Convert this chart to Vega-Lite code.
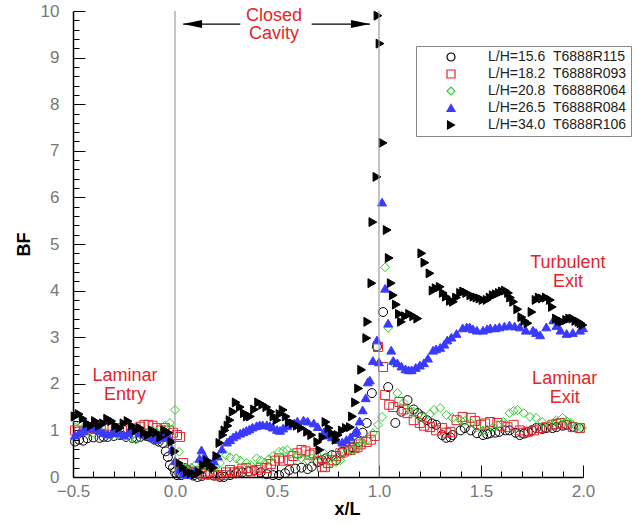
{
  "$schema": "https://vega.github.io/schema/vega-lite/v6.json",
  "width": 510,
  "height": 466,
  "autosize": {"type": "none"},
  "padding": {"left": 73, "top": 11, "right": 54, "bottom": 48},
  "background": "white",
  "config": {"view": {"stroke": null}},
  "datasets": {
    "vlines": [{"x": 0, "y": 0, "y2": 10}, {"x": 1, "y": 0, "y2": 10}],
    "arrows": [{"x": 0.04, "x2": 0.32, "y": 9.72}, {"x": 0.67, "x2": 0.956, "y": 9.72}],
    "headL": [{"x": 0.086, "y": 9.72}],
    "headR": [{"x": 0.909, "y": 9.72}],
    "notes": [
      {"x": 0.485, "y": 9.78, "t": "Closed"},
      {"x": 0.485, "y": 9.39, "t": "Cavity"},
      {"x": -0.245, "y": 2.06, "t": "Laminar"},
      {"x": -0.245, "y": 1.66, "t": "Entry"},
      {"x": 1.926, "y": 4.48, "t": "Turbulent"},
      {"x": 1.926, "y": 4.08, "t": "Exit"},
      {"x": 1.91, "y": 1.99, "t": "Laminar"},
      {"x": 1.91, "y": 1.59, "t": "Exit"}
    ],
    "pts": [
      {"s":"a","x":-0.49,"y":0.76},{"s":"a","x":-0.47,"y":0.8},{"s":"a","x":-0.45,"y":0.78},{"s":"a","x":-0.43,"y":0.83},{"s":"a","x":-0.40,"y":0.85},{"s":"a","x":-0.37,"y":0.84},{"s":"a","x":-0.35,"y":0.86},{"s":"a","x":-0.33,"y":0.86},{"s":"a","x":-0.30,"y":0.88},{"s":"a","x":-0.27,"y":0.9},{"s":"a","x":-0.24,"y":0.86},{"s":"a","x":-0.21,"y":0.84},{"s":"a","x":-0.19,"y":0.84},{"s":"a","x":-0.17,"y":0.86},{"s":"a","x":-0.14,"y":0.88},{"s":"a","x":-0.12,"y":0.85},{"s":"a","x":-0.10,"y":0.8},{"s":"a","x":-0.08,"y":0.76},{"s":"a","x":-0.06,"y":0.73},{"s":"a","x":-0.045,"y":0.55},{"s":"a","x":-0.035,"y":0.43},{"s":"a","x":-0.025,"y":0.26},{"s":"a","x":-0.01,"y":0.2},{"s":"a","x":0.0,"y":0.1},{"s":"a","x":0.01,"y":0.04},{"s":"a","x":0.03,"y":0.04},{"s":"a","x":0.05,"y":0.19},{"s":"a","x":0.07,"y":0.06},{"s":"a","x":0.09,"y":0.03},{"s":"a","x":0.11,"y":0.0},{"s":"a","x":0.13,"y":0.02},{"s":"a","x":0.16,"y":0.05},{"s":"a","x":0.19,"y":0.03},{"s":"a","x":0.22,"y":0.0},{"s":"a","x":0.24,"y":0.0},{"s":"a","x":0.27,"y":0.04},{"s":"a","x":0.30,"y":0.08},{"s":"a","x":0.33,"y":0.1},{"s":"a","x":0.36,"y":0.12},{"s":"a","x":0.39,"y":0.14},{"s":"a","x":0.42,"y":0.1},{"s":"a","x":0.45,"y":0.06},{"s":"a","x":0.48,"y":0.04},{"s":"a","x":0.51,"y":0.04},{"s":"a","x":0.54,"y":0.08},{"s":"a","x":0.56,"y":0.15},{"s":"a","x":0.59,"y":0.18},{"s":"a","x":0.62,"y":0.2},{"s":"a","x":0.65,"y":0.17},{"s":"a","x":0.67,"y":0.22},{"s":"a","x":0.70,"y":0.32},{"s":"a","x":0.72,"y":0.36},{"s":"a","x":0.74,"y":0.40},{"s":"a","x":0.77,"y":0.47},{"s":"a","x":0.79,"y":0.36},{"s":"a","x":0.82,"y":0.54},{"s":"a","x":0.85,"y":0.58},{"s":"a","x":0.87,"y":0.64},{"s":"a","x":0.90,"y":0.75},{"s":"a","x":0.92,"y":0.95},{"s":"a","x":0.94,"y":1.16},{"s":"a","x":0.965,"y":1.8},{"s":"a","x":0.99,"y":2.8},{"s":"a","x":1.02,"y":3.54},{"s":"a","x":1.045,"y":1.93},{"s":"a","x":1.08,"y":1.16},{"s":"a","x":1.11,"y":1.4},{"s":"a","x":1.14,"y":1.65},{"s":"a","x":1.17,"y":1.45},{"s":"a","x":1.19,"y":1.37},{"s":"a","x":1.21,"y":1.3},{"s":"a","x":1.235,"y":1.22},{"s":"a","x":1.26,"y":1.15},{"s":"a","x":1.28,"y":1.12},{"s":"a","x":1.31,"y":0.9},{"s":"a","x":1.33,"y":0.84},{"s":"a","x":1.35,"y":0.85},{"s":"a","x":1.36,"y":0.9},{"s":"a","x":1.40,"y":1.0},{"s":"a","x":1.42,"y":1.05},{"s":"a","x":1.45,"y":1.0},{"s":"a","x":1.48,"y":0.94},{"s":"a","x":1.51,"y":0.9},{"s":"a","x":1.53,"y":0.92},{"s":"a","x":1.545,"y":0.94},{"s":"a","x":1.57,"y":0.95},{"s":"a","x":1.59,"y":0.97},{"s":"a","x":1.62,"y":1.0},{"s":"a","x":1.64,"y":1.0},{"s":"a","x":1.67,"y":0.95},{"s":"a","x":1.69,"y":0.9},{"s":"a","x":1.71,"y":0.93},{"s":"a","x":1.73,"y":0.97},{"s":"a","x":1.75,"y":1.0},{"s":"a","x":1.77,"y":1.05},{"s":"a","x":1.80,"y":1.03},{"s":"a","x":1.82,"y":1.05},{"s":"a","x":1.85,"y":1.05},{"s":"a","x":1.87,"y":1.07},{"s":"a","x":1.90,"y":1.1},{"s":"a","x":1.92,"y":1.12},{"s":"a","x":1.95,"y":1.08},{"s":"a","x":1.98,"y":1.05},

      {"s":"b","x":-0.49,"y":1.0},{"s":"b","x":-0.47,"y":0.97},{"s":"b","x":-0.44,"y":1.0},{"s":"b","x":-0.41,"y":1.05},{"s":"b","x":-0.38,"y":1.03},{"s":"b","x":-0.35,"y":1.08},{"s":"b","x":-0.32,"y":1.1},{"s":"b","x":-0.29,"y":1.05},{"s":"b","x":-0.26,"y":1.0},{"s":"b","x":-0.23,"y":1.02},{"s":"b","x":-0.20,"y":1.04},{"s":"b","x":-0.17,"y":1.08},{"s":"b","x":-0.15,"y":1.12},{"s":"b","x":-0.13,"y":1.12},{"s":"b","x":-0.11,"y":1.1},{"s":"b","x":-0.09,"y":1.05},{"s":"b","x":-0.07,"y":1.0},{"s":"b","x":-0.05,"y":1.05},{"s":"b","x":-0.03,"y":1.0},{"s":"b","x":-0.01,"y":0.95},{"s":"b","x":0.01,"y":0.9},{"s":"b","x":0.025,"y":0.86},{"s":"b","x":0.04,"y":0.3},{"s":"b","x":0.055,"y":0.15},{"s":"b","x":0.07,"y":0.1},{"s":"b","x":0.09,"y":0.1},{"s":"b","x":0.11,"y":0.12},{"s":"b","x":0.13,"y":0.08},{"s":"b","x":0.15,"y":0.06},{"s":"b","x":0.17,"y":0.1},{"s":"b","x":0.19,"y":0.05},{"s":"b","x":0.21,"y":0.03},{"s":"b","x":0.235,"y":0.04},{"s":"b","x":0.25,"y":0.1},{"s":"b","x":0.27,"y":0.15},{"s":"b","x":0.29,"y":0.1},{"s":"b","x":0.31,"y":0.12},{"s":"b","x":0.33,"y":0.18},{"s":"b","x":0.35,"y":0.19},{"s":"b","x":0.37,"y":0.12},{"s":"b","x":0.40,"y":0.15},{"s":"b","x":0.42,"y":0.2},{"s":"b","x":0.45,"y":0.19},{"s":"b","x":0.47,"y":0.28},{"s":"b","x":0.49,"y":0.35},{"s":"b","x":0.51,"y":0.4},{"s":"b","x":0.53,"y":0.35},{"s":"b","x":0.56,"y":0.36},{"s":"b","x":0.58,"y":0.45},{"s":"b","x":0.60,"y":0.51},{"s":"b","x":0.62,"y":0.58},{"s":"b","x":0.64,"y":0.55},{"s":"b","x":0.66,"y":0.48},{"s":"b","x":0.68,"y":0.51},{"s":"b","x":0.70,"y":0.35},{"s":"b","x":0.72,"y":0.22},{"s":"b","x":0.735,"y":0.21},{"s":"b","x":0.75,"y":0.3},{"s":"b","x":0.77,"y":0.36},{"s":"b","x":0.79,"y":0.45},{"s":"b","x":0.81,"y":0.51},{"s":"b","x":0.83,"y":0.55},{"s":"b","x":0.86,"y":0.58},{"s":"b","x":0.88,"y":0.62},{"s":"b","x":0.895,"y":0.64},{"s":"b","x":0.91,"y":0.7},{"s":"b","x":0.94,"y":0.75},{"s":"b","x":0.96,"y":0.8},{"s":"b","x":0.98,"y":0.88},{"s":"b","x":0.995,"y":2.79},{"s":"b","x":1.02,"y":2.36},{"s":"b","x":1.03,"y":1.76},{"s":"b","x":1.05,"y":1.55},{"s":"b","x":1.07,"y":1.5},{"s":"b","x":1.10,"y":1.61},{"s":"b","x":1.12,"y":1.45},{"s":"b","x":1.14,"y":1.37},{"s":"b","x":1.17,"y":1.22},{"s":"b","x":1.20,"y":1.16},{"s":"b","x":1.22,"y":1.1},{"s":"b","x":1.25,"y":1.07},{"s":"b","x":1.28,"y":1.0},{"s":"b","x":1.31,"y":1.05},{"s":"b","x":1.33,"y":0.95},{"s":"b","x":1.35,"y":0.97},{"s":"b","x":1.38,"y":1.22},{"s":"b","x":1.41,"y":1.29},{"s":"b","x":1.45,"y":1.27},{"s":"b","x":1.47,"y":1.2},{"s":"b","x":1.50,"y":1.12},{"s":"b","x":1.52,"y":1.15},{"s":"b","x":1.545,"y":1.18},{"s":"b","x":1.58,"y":1.16},{"s":"b","x":1.60,"y":1.1},{"s":"b","x":1.63,"y":1.07},{"s":"b","x":1.66,"y":1.12},{"s":"b","x":1.69,"y":1.0},{"s":"b","x":1.71,"y":0.95},{"s":"b","x":1.73,"y":0.97},{"s":"b","x":1.76,"y":1.0},{"s":"b","x":1.79,"y":1.05},{"s":"b","x":1.82,"y":1.07},{"s":"b","x":1.85,"y":1.12},{"s":"b","x":1.87,"y":1.14},{"s":"b","x":1.89,"y":1.16},{"s":"b","x":1.92,"y":1.12},{"s":"b","x":1.95,"y":1.07},{"s":"b","x":1.985,"y":1.05},

      {"s":"c","x":-0.48,"y":1.2},{"s":"c","x":-0.46,"y":1.15},{"s":"c","x":-0.44,"y":1.1},{"s":"c","x":-0.42,"y":1.0},{"s":"c","x":-0.40,"y":0.95},{"s":"c","x":-0.37,"y":1.0},{"s":"c","x":-0.34,"y":0.95},{"s":"c","x":-0.31,"y":0.9},{"s":"c","x":-0.28,"y":0.92},{"s":"c","x":-0.25,"y":0.88},{"s":"c","x":-0.22,"y":0.85},{"s":"c","x":-0.19,"y":0.8},{"s":"c","x":-0.16,"y":0.9},{"s":"c","x":-0.13,"y":0.95},{"s":"c","x":-0.11,"y":1.0},{"s":"c","x":-0.09,"y":0.95},{"s":"c","x":-0.07,"y":1.05},{"s":"c","x":-0.05,"y":1.1},{"s":"c","x":-0.025,"y":1.16},{"s":"c","x":0.0,"y":1.44},{"s":"c","x":0.02,"y":0.54},{"s":"c","x":0.04,"y":0.2},{"s":"c","x":0.06,"y":0.15},{"s":"c","x":0.08,"y":0.2},{"s":"c","x":0.10,"y":0.25},{"s":"c","x":0.12,"y":0.2},{"s":"c","x":0.14,"y":0.15},{"s":"c","x":0.16,"y":0.2},{"s":"c","x":0.18,"y":0.25},{"s":"c","x":0.20,"y":0.22},{"s":"c","x":0.22,"y":0.3},{"s":"c","x":0.25,"y":0.47},{"s":"c","x":0.27,"y":0.42},{"s":"c","x":0.30,"y":0.4},{"s":"c","x":0.32,"y":0.35},{"s":"c","x":0.35,"y":0.3},{"s":"c","x":0.37,"y":0.26},{"s":"c","x":0.40,"y":0.4},{"s":"c","x":0.42,"y":0.36},{"s":"c","x":0.44,"y":0.3},{"s":"c","x":0.46,"y":0.38},{"s":"c","x":0.48,"y":0.45},{"s":"c","x":0.51,"y":0.54},{"s":"c","x":0.53,"y":0.56},{"s":"c","x":0.55,"y":0.58},{"s":"c","x":0.57,"y":0.5},{"s":"c","x":0.60,"y":0.47},{"s":"c","x":0.62,"y":0.4},{"s":"c","x":0.65,"y":0.36},{"s":"c","x":0.67,"y":0.4},{"s":"c","x":0.70,"y":0.45},{"s":"c","x":0.73,"y":0.51},{"s":"c","x":0.75,"y":0.4},{"s":"c","x":0.77,"y":0.3},{"s":"c","x":0.79,"y":0.32},{"s":"c","x":0.81,"y":0.36},{"s":"c","x":0.84,"y":0.51},{"s":"c","x":0.87,"y":0.58},{"s":"c","x":0.89,"y":0.65},{"s":"c","x":0.91,"y":0.69},{"s":"c","x":0.94,"y":0.79},{"s":"c","x":0.97,"y":0.94},{"s":"c","x":0.995,"y":1.12},{"s":"c","x":1.015,"y":1.29},{"s":"c","x":1.03,"y":4.5},{"s":"c","x":1.045,"y":3.2},{"s":"c","x":1.07,"y":2.45},{"s":"c","x":1.09,"y":1.8},{"s":"c","x":1.12,"y":1.6},{"s":"c","x":1.15,"y":1.44},{"s":"c","x":1.17,"y":1.4},{"s":"c","x":1.19,"y":1.33},{"s":"c","x":1.22,"y":1.27},{"s":"c","x":1.25,"y":1.35},{"s":"c","x":1.27,"y":1.44},{"s":"c","x":1.30,"y":1.48},{"s":"c","x":1.33,"y":1.33},{"s":"c","x":1.36,"y":1.27},{"s":"c","x":1.40,"y":1.22},{"s":"c","x":1.42,"y":1.2},{"s":"c","x":1.45,"y":1.16},{"s":"c","x":1.48,"y":1.07},{"s":"c","x":1.51,"y":1.0},{"s":"c","x":1.53,"y":1.02},{"s":"c","x":1.56,"y":1.07},{"s":"c","x":1.58,"y":1.12},{"s":"c","x":1.61,"y":1.18},{"s":"c","x":1.64,"y":1.37},{"s":"c","x":1.66,"y":1.42},{"s":"c","x":1.68,"y":1.44},{"s":"c","x":1.71,"y":1.37},{"s":"c","x":1.74,"y":1.29},{"s":"c","x":1.77,"y":1.27},{"s":"c","x":1.80,"y":1.18},{"s":"c","x":1.84,"y":1.12},{"s":"c","x":1.87,"y":1.22},{"s":"c","x":1.90,"y":1.27},{"s":"c","x":1.92,"y":1.2},{"s":"c","x":1.94,"y":1.16},{"s":"c","x":1.97,"y":1.07},{"s":"c","x":1.995,"y":1.05},

      {"s":"d","x":-0.49,"y":0.9},{"s":"d","x":-0.47,"y":0.95},{"s":"d","x":-0.45,"y":1.0},{"s":"d","x":-0.43,"y":1.05},{"s":"d","x":-0.41,"y":1.1},{"s":"d","x":-0.39,"y":1.05},{"s":"d","x":-0.37,"y":1.0},{"s":"d","x":-0.35,"y":0.95},{"s":"d","x":-0.33,"y":0.92},{"s":"d","x":-0.31,"y":0.95},{"s":"d","x":-0.29,"y":1.0},{"s":"d","x":-0.27,"y":0.95},{"s":"d","x":-0.25,"y":0.9},{"s":"d","x":-0.23,"y":0.95},{"s":"d","x":-0.21,"y":1.0},{"s":"d","x":-0.19,"y":1.0},{"s":"d","x":-0.17,"y":0.95},{"s":"d","x":-0.15,"y":0.92},{"s":"d","x":-0.13,"y":0.9},{"s":"d","x":-0.11,"y":0.85},{"s":"d","x":-0.09,"y":0.8},{"s":"d","x":-0.07,"y":0.85},{"s":"d","x":-0.05,"y":0.9},{"s":"d","x":-0.03,"y":0.85},{"s":"d","x":-0.015,"y":0.6},{"s":"d","x":0.0,"y":0.35},{"s":"d","x":0.02,"y":0.15},{"s":"d","x":0.04,"y":0.08},{"s":"d","x":0.06,"y":0.05},{"s":"d","x":0.08,"y":0.1},{"s":"d","x":0.10,"y":0.15},{"s":"d","x":0.12,"y":0.4},{"s":"d","x":0.13,"y":0.58},{"s":"d","x":0.145,"y":0.45},{"s":"d","x":0.155,"y":0.36},{"s":"d","x":0.17,"y":0.3},{"s":"d","x":0.19,"y":0.35},{"s":"d","x":0.21,"y":0.45},{"s":"d","x":0.23,"y":0.6},{"s":"d","x":0.255,"y":0.75},{"s":"d","x":0.27,"y":0.8},{"s":"d","x":0.285,"y":0.86},{"s":"d","x":0.30,"y":0.9},{"s":"d","x":0.32,"y":0.94},{"s":"d","x":0.335,"y":0.97},{"s":"d","x":0.35,"y":1.0},{"s":"d","x":0.365,"y":1.03},{"s":"d","x":0.38,"y":1.07},{"s":"d","x":0.40,"y":1.1},{"s":"d","x":0.415,"y":1.12},{"s":"d","x":0.43,"y":1.12},{"s":"d","x":0.45,"y":1.12},{"s":"d","x":0.465,"y":1.1},{"s":"d","x":0.48,"y":1.07},{"s":"d","x":0.50,"y":1.02},{"s":"d","x":0.515,"y":1.0},{"s":"d","x":0.53,"y":1.05},{"s":"d","x":0.55,"y":1.1},{"s":"d","x":0.57,"y":1.14},{"s":"d","x":0.585,"y":1.16},{"s":"d","x":0.60,"y":1.2},{"s":"d","x":0.63,"y":1.22},{"s":"d","x":0.65,"y":1.2},{"s":"d","x":0.68,"y":1.16},{"s":"d","x":0.70,"y":1.08},{"s":"d","x":0.73,"y":0.97},{"s":"d","x":0.75,"y":0.9},{"s":"d","x":0.77,"y":0.86},{"s":"d","x":0.79,"y":0.8},{"s":"d","x":0.82,"y":0.75},{"s":"d","x":0.84,"y":0.8},{"s":"d","x":0.86,"y":0.86},{"s":"d","x":0.88,"y":0.95},{"s":"d","x":0.89,"y":1.0},{"s":"d","x":0.905,"y":1.2},{"s":"d","x":0.92,"y":1.44},{"s":"d","x":0.935,"y":1.7},{"s":"d","x":0.945,"y":2.04},{"s":"d","x":0.955,"y":2.08},{"s":"d","x":0.97,"y":2.5},{"s":"d","x":0.99,"y":2.94},{"s":"d","x":1.0,"y":2.47},{"s":"d","x":1.015,"y":5.9},{"s":"d","x":1.03,"y":4.05},{"s":"d","x":1.045,"y":3.3},{"s":"d","x":1.06,"y":2.72},{"s":"d","x":1.07,"y":2.5},{"s":"d","x":1.09,"y":2.45},{"s":"d","x":1.11,"y":2.38},{"s":"d","x":1.13,"y":2.32},{"s":"d","x":1.145,"y":2.3},{"s":"d","x":1.16,"y":2.3},{"s":"d","x":1.18,"y":2.35},{"s":"d","x":1.20,"y":2.4},{"s":"d","x":1.22,"y":2.45},{"s":"d","x":1.24,"y":2.55},{"s":"d","x":1.265,"y":2.72},{"s":"d","x":1.28,"y":2.75},{"s":"d","x":1.30,"y":2.78},{"s":"d","x":1.32,"y":2.85},{"s":"d","x":1.335,"y":2.94},{"s":"d","x":1.355,"y":3.0},{"s":"d","x":1.38,"y":3.08},{"s":"d","x":1.41,"y":3.2},{"s":"d","x":1.43,"y":3.22},{"s":"d","x":1.445,"y":3.22},{"s":"d","x":1.46,"y":3.18},{"s":"d","x":1.48,"y":3.15},{"s":"d","x":1.51,"y":3.15},{"s":"d","x":1.53,"y":3.18},{"s":"d","x":1.545,"y":3.2},{"s":"d","x":1.57,"y":3.2},{"s":"d","x":1.59,"y":3.22},{"s":"d","x":1.615,"y":3.24},{"s":"d","x":1.64,"y":3.26},{"s":"d","x":1.665,"y":3.24},{"s":"d","x":1.69,"y":3.22},{"s":"d","x":1.72,"y":3.15},{"s":"d","x":1.755,"y":3.15},{"s":"d","x":1.77,"y":3.1},{"s":"d","x":1.79,"y":3.05},{"s":"d","x":1.82,"y":3.22},{"s":"d","x":1.855,"y":3.37},{"s":"d","x":1.87,"y":3.25},{"s":"d","x":1.89,"y":3.15},{"s":"d","x":1.92,"y":3.08},{"s":"d","x":1.95,"y":3.1},{"s":"d","x":1.985,"y":3.15},{"s":"d","x":2.0,"y":3.2},

      {"s":"e","x":-0.49,"y":1.3},{"s":"e","x":-0.47,"y":1.35},{"s":"e","x":-0.45,"y":1.25},{"s":"e","x":-0.43,"y":1.15},{"s":"e","x":-0.41,"y":1.1},{"s":"e","x":-0.39,"y":1.2},{"s":"e","x":-0.37,"y":1.1},{"s":"e","x":-0.35,"y":1.15},{"s":"e","x":-0.33,"y":1.25},{"s":"e","x":-0.31,"y":1.2},{"s":"e","x":-0.29,"y":1.1},{"s":"e","x":-0.27,"y":1.05},{"s":"e","x":-0.25,"y":1.15},{"s":"e","x":-0.23,"y":1.2},{"s":"e","x":-0.21,"y":1.1},{"s":"e","x":-0.19,"y":1.0},{"s":"e","x":-0.17,"y":1.05},{"s":"e","x":-0.15,"y":0.95},{"s":"e","x":-0.13,"y":0.9},{"s":"e","x":-0.11,"y":1.0},{"s":"e","x":-0.09,"y":0.95},{"s":"e","x":-0.07,"y":0.85},{"s":"e","x":-0.05,"y":1.0},{"s":"e","x":-0.03,"y":0.95},{"s":"e","x":-0.015,"y":0.75},{"s":"e","x":0.0,"y":0.55},{"s":"e","x":0.02,"y":0.3},{"s":"e","x":0.04,"y":0.2},{"s":"e","x":0.06,"y":0.1},{"s":"e","x":0.08,"y":0.08},{"s":"e","x":0.10,"y":0.05},{"s":"e","x":0.12,"y":0.1},{"s":"e","x":0.14,"y":0.25},{"s":"e","x":0.16,"y":0.35},{"s":"e","x":0.175,"y":0.25},{"s":"e","x":0.19,"y":0.2},{"s":"e","x":0.205,"y":0.45},{"s":"e","x":0.22,"y":0.73},{"s":"e","x":0.235,"y":0.9},{"s":"e","x":0.245,"y":1.0},{"s":"e","x":0.26,"y":1.1},{"s":"e","x":0.27,"y":1.22},{"s":"e","x":0.285,"y":1.4},{"s":"e","x":0.30,"y":1.6},{"s":"e","x":0.32,"y":1.5},{"s":"e","x":0.34,"y":1.37},{"s":"e","x":0.355,"y":1.3},{"s":"e","x":0.37,"y":1.3},{"s":"e","x":0.39,"y":1.45},{"s":"e","x":0.41,"y":1.6},{"s":"e","x":0.43,"y":1.55},{"s":"e","x":0.45,"y":1.5},{"s":"e","x":0.47,"y":1.4},{"s":"e","x":0.485,"y":1.3},{"s":"e","x":0.50,"y":1.22},{"s":"e","x":0.515,"y":1.35},{"s":"e","x":0.53,"y":1.44},{"s":"e","x":0.545,"y":1.3},{"s":"e","x":0.56,"y":1.18},{"s":"e","x":0.58,"y":1.15},{"s":"e","x":0.60,"y":1.1},{"s":"e","x":0.62,"y":1.05},{"s":"e","x":0.65,"y":0.97},{"s":"e","x":0.67,"y":0.9},{"s":"e","x":0.70,"y":0.75},{"s":"e","x":0.71,"y":0.58},{"s":"e","x":0.725,"y":0.85},{"s":"e","x":0.74,"y":1.18},{"s":"e","x":0.755,"y":1.05},{"s":"e","x":0.77,"y":0.94},{"s":"e","x":0.79,"y":0.8},{"s":"e","x":0.80,"y":0.9},{"s":"e","x":0.82,"y":1.0},{"s":"e","x":0.84,"y":1.05},{"s":"e","x":0.86,"y":1.07},{"s":"e","x":0.87,"y":1.3},{"s":"e","x":0.885,"y":1.6},{"s":"e","x":0.90,"y":1.9},{"s":"e","x":0.915,"y":2.3},{"s":"e","x":0.94,"y":2.98},{"s":"e","x":0.945,"y":3.33},{"s":"e","x":0.965,"y":4.16},{"s":"e","x":0.97,"y":5.47},{"s":"e","x":0.99,"y":6.44},{"s":"e","x":0.995,"y":9.9},{"s":"e","x":1.005,"y":9.3},{"s":"e","x":1.02,"y":7.17},{"s":"e","x":1.04,"y":5.3},{"s":"e","x":1.05,"y":4.7},{"s":"e","x":1.06,"y":4.16},{"s":"e","x":1.07,"y":3.9},{"s":"e","x":1.085,"y":3.7},{"s":"e","x":1.10,"y":3.5},{"s":"e","x":1.11,"y":3.33},{"s":"e","x":1.13,"y":3.45},{"s":"e","x":1.15,"y":3.5},{"s":"e","x":1.17,"y":3.45},{"s":"e","x":1.19,"y":3.4},{"s":"e","x":1.21,"y":4.8},{"s":"e","x":1.225,"y":4.6},{"s":"e","x":1.25,"y":4.37},{"s":"e","x":1.265,"y":4.0},{"s":"e","x":1.28,"y":4.05},{"s":"e","x":1.30,"y":4.08},{"s":"e","x":1.315,"y":3.95},{"s":"e","x":1.33,"y":3.87},{"s":"e","x":1.35,"y":3.78},{"s":"e","x":1.365,"y":3.76},{"s":"e","x":1.38,"y":3.85},{"s":"e","x":1.40,"y":3.95},{"s":"e","x":1.415,"y":3.98},{"s":"e","x":1.43,"y":3.95},{"s":"e","x":1.45,"y":3.9},{"s":"e","x":1.465,"y":3.87},{"s":"e","x":1.48,"y":3.85},{"s":"e","x":1.495,"y":3.83},{"s":"e","x":1.51,"y":3.8},{"s":"e","x":1.53,"y":3.8},{"s":"e","x":1.545,"y":3.85},{"s":"e","x":1.56,"y":3.9},{"s":"e","x":1.575,"y":3.92},{"s":"e","x":1.59,"y":3.95},{"s":"e","x":1.605,"y":3.98},{"s":"e","x":1.62,"y":4.0},{"s":"e","x":1.635,"y":3.95},{"s":"e","x":1.645,"y":3.85},{"s":"e","x":1.66,"y":3.76},{"s":"e","x":1.68,"y":3.6},{"s":"e","x":1.70,"y":3.43},{"s":"e","x":1.715,"y":3.35},{"s":"e","x":1.73,"y":3.3},{"s":"e","x":1.75,"y":3.54},{"s":"e","x":1.77,"y":3.8},{"s":"e","x":1.785,"y":3.85},{"s":"e","x":1.80,"y":3.83},{"s":"e","x":1.82,"y":3.85},{"s":"e","x":1.84,"y":3.8},{"s":"e","x":1.85,"y":3.65},{"s":"e","x":1.87,"y":3.4},{"s":"e","x":1.885,"y":3.35},{"s":"e","x":1.90,"y":3.33},{"s":"e","x":1.92,"y":3.37},{"s":"e","x":1.935,"y":3.4},{"s":"e","x":1.95,"y":3.4},{"s":"e","x":1.965,"y":3.35},{"s":"e","x":1.98,"y":3.33},{"s":"e","x":1.99,"y":3.3},{"s":"e","x":2.0,"y":3.26}
    ]
  },
  "encoding": {
    "x": {
      "field": "x", "type": "quantitative",
      "scale": {"domain": [-0.5, 2], "nice": false, "zero": false},
      "axis": {
        "values": [-0.5,-0.4,-0.3,-0.2,-0.1,0,0.1,0.2,0.3,0.4,0.5,0.6,0.7,0.8,0.9,1,1.1,1.2,1.3,1.4,1.5,1.6,1.7,1.8,1.9,2],
        "labelExpr": "abs(datum.value*2 - round(datum.value*2)) < 0.001 ? format(datum.value, '.1f') : ''",
        "title": "x/L", "grid": false,
        "domainColor": "#000000", "domainWidth": 1.5,
        "ticks": true, "tickColor": "#000000", "tickWidth": 1,
        "tickSize": {"condition": {"test": "abs(datum.value*2 - round(datum.value*2)) < 0.001", "value": -12}, "value": -6},
        "labelPadding": 18, "labelFont": "Liberation Sans", "labelFontSize": 17, "labelColor": "#777777", "labelFlush": false, "labelOverlap": false, "labelBound": false,
        "titleFont": "Liberation Sans", "titleFontSize": 18, "titleFontWeight": "bold", "titleColor": "#000000",
        "titleX": 274, "titleY": 37, "titleBaseline": "alphabetic"
      }
    },
    "y": {
      "field": "y", "type": "quantitative",
      "scale": {"domain": [0, 10], "nice": false, "zero": false},
      "axis": {
        "values": [0,0.2,0.4,0.6,0.8,1,1.2,1.4,1.6,1.8,2,2.2,2.4,2.6,2.8,3,3.2,3.4,3.6,3.8,4,4.2,4.4,4.6,4.8,5,5.2,5.4,5.6,5.8,6,6.2,6.4,6.6,6.8,7,7.2,7.4,7.6,7.8,8,8.2,8.4,8.6,8.8,9,9.2,9.4,9.6,9.8,10],
        "labelExpr": "abs(datum.value - round(datum.value)) < 0.001 ? format(round(datum.value), 'd') : ''",
        "title": "BF", "grid": false,
        "domainColor": "#000000", "domainWidth": 1.5,
        "ticks": true, "tickColor": "#000000", "tickWidth": 1,
        "tickSize": {"condition": {"test": "abs(datum.value - round(datum.value)) < 0.001", "value": -12}, "value": -6},
        "labelPadding": 26, "labelFont": "Liberation Sans", "labelFontSize": 17, "labelColor": "#777777", "labelFlush": false, "labelOverlap": false, "labelBound": false,
        "titleFont": "Liberation Sans", "titleFontSize": 18, "titleFontWeight": "bold", "titleColor": "#000000",
        "titlePadding": 7
      }
    }
  },
  "layer": [
    {
      "data": {"name": "pts"},
      "mark": {"type": "point", "strokeWidth": 1, "opacity": 1, "fillOpacity": 1, "size": 80},
      "encoding": {
        "shape": {
          "field": "s", "type": "nominal",
          "scale": {"domain": ["a","b","c","d","e"], "range": ["circle","square","diamond","triangle-up","triangle-right"]},
          "legend": {
            "orient": "none", "legendX": 343, "legendY": 35, "title": null,
            "strokeColor": "#888888", "fillColor": "#ffffff", "padding": 4,
            "symbolOffset": 24, "labelOffset": 30, "rowPadding": 3,
            "symbolSize": 64, "symbolStrokeWidth": 1.2,
            "labelFont": "Liberation Sans", "labelFontSize": 14, "labelColor": "#222222", "labelLimit": 300,
            "labelExpr": "datum.label == 'a' ? 'L/H=15.6\u00a0\u00a0T6888R115' : datum.label == 'b' ? 'L/H=18.2\u00a0\u00a0T6888R093' : datum.label == 'c' ? 'L/H=20.8\u00a0\u00a0T6888R064' : datum.label == 'd' ? 'L/H=26.5\u00a0\u00a0T6888R084' : 'L/H=34.0\u00a0\u00a0T6888R106'"
          }
        },
        "stroke": {
          "field": "s", "type": "nominal",
          "scale": {"domain": ["a","b","c","d","e"], "range": ["#000000","#e3242b","#2ecc2e","#3a3aff","#000000"]}
        },
        "fill": {
          "field": "s", "type": "nominal",
          "scale": {"domain": ["a","b","c","d","e"], "range": ["transparent","transparent","transparent","#3a3aff","#000000"]}
        }
      }
    },
    {
      "data": {"name": "vlines"},
      "mark": {"type": "rule", "color": "#9a9a9a", "strokeWidth": 1.2},
      "encoding": {"y2": {"field": "y2"}}
    },
    {
      "data": {"name": "arrows"},
      "mark": {"type": "rule", "color": "#000000", "strokeWidth": 1.2},
      "encoding": {"x2": {"field": "x2"}}
    },
    {
      "data": {"name": "headL"},
      "mark": {"type": "point", "filled": true, "color": "#000000", "opacity": 1, "size": 361, "shape": "M -1 0 L 1 -0.42 L 1 0.42 Z"},
      "encoding": {}
    },
    {
      "data": {"name": "headR"},
      "mark": {"type": "point", "filled": true, "color": "#000000", "opacity": 1, "size": 361, "shape": "M 1 0 L -1 -0.42 L -1 0.42 Z"},
      "encoding": {}
    },
    {
      "data": {"name": "notes"},
      "mark": {"type": "text", "font": "Liberation Sans", "fontSize": 18, "color": "#e3242b", "align": "center", "baseline": "alphabetic"},
      "encoding": {"text": {"field": "t"}}
    }
  ]
}
